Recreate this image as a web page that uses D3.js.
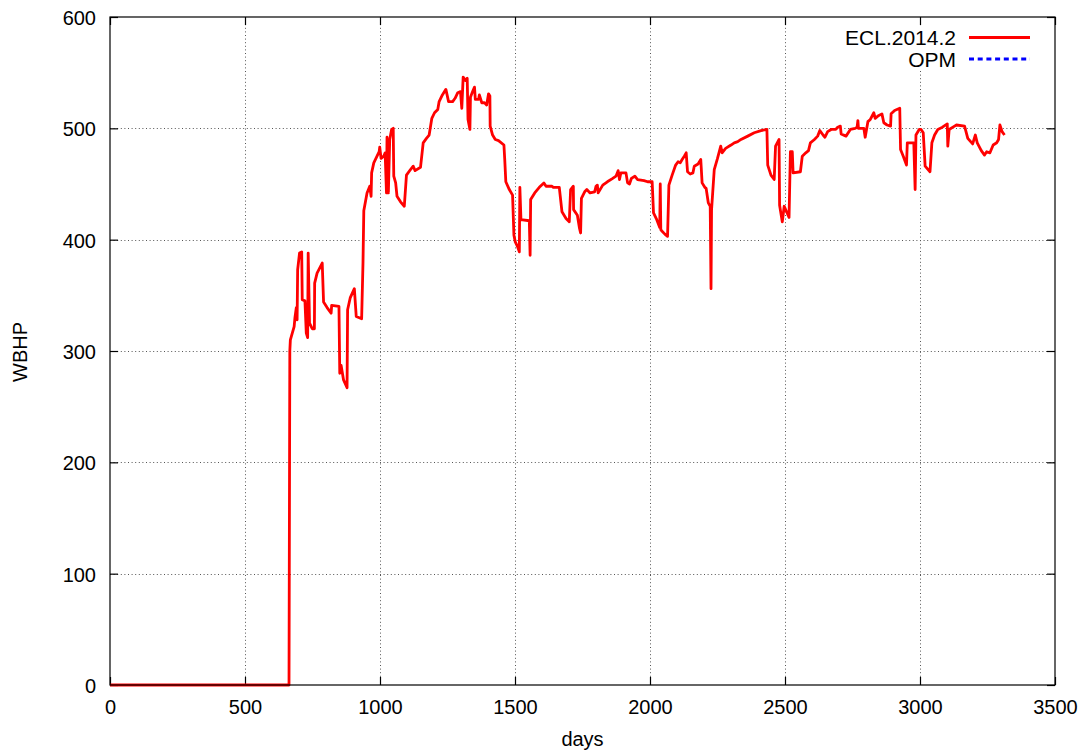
<!DOCTYPE html>
<html>
<head>
<meta charset="utf-8">
<script src="https://cdn.jsdelivr.net/npm/d3@7"></script>
<style>
  html, body { margin: 0; padding: 0; background: #fff; }
  svg { display: block; font-family: "Liberation Sans", Arial, sans-serif; }
</style>
</head>
<body>
<svg id="chart" width="1087" height="756"></svg>
<script>
// ---------- data ----------
const seriesNames = ["ECL.2014.2", "OPM"];
const xTicks = [0, 500, 1000, 1500, 2000, 2500, 3000, 3500];
const yTicks = [0, 100, 200, 300, 400, 500, 600];
const xLabel = "days";
const yLabel = "WBHP";

const eclDays = [
  0, 660, 663, 666, 668, 682, 685, 690, 693, 695, 702, 710, 712, 722, 727, 732, 734, 739, 749, 757,
  758, 767, 786, 791, 804, 819, 821, 848, 851, 856, 865, 878, 880, 890, 905, 912, 932, 937, 940, 952,
  962, 967, 969, 977, 989, 997, 999, 1004, 1014, 1019, 1024, 1026, 1031, 1036, 1043, 1049, 1051, 1058, 1063, 1076,
  1090, 1098, 1113, 1123, 1130, 1150, 1160, 1172, 1182, 1192, 1202, 1214, 1219, 1231, 1244, 1254, 1269, 1278, 1288, 1298,
  1303, 1308, 1316, 1323, 1326, 1333, 1335, 1343, 1350, 1353, 1365, 1368, 1377, 1387, 1395, 1402, 1407, 1408, 1417, 1427,
  1439, 1459, 1462, 1466, 1479, 1491, 1496, 1501, 1509, 1516, 1518, 1522, 1553, 1556, 1558, 1573, 1590, 1607, 1615, 1637,
  1642, 1664, 1674, 1689, 1701, 1706, 1716, 1717, 1731, 1739, 1743, 1746, 1758, 1766, 1778, 1795, 1800, 1805, 1808, 1825,
  1842, 1862, 1874, 1882, 1887, 1892, 1911, 1917, 1924, 1931, 1944, 1954, 1978, 1991, 2008, 2013, 2025, 2036, 2038, 2040,
  2043, 2055, 2065, 2070, 2082, 2095, 2104, 2112, 2119, 2127, 2134, 2139, 2149, 2159, 2164, 2178, 2188, 2193, 2203, 2208,
  2216, 2223, 2226, 2228, 2238, 2250, 2262, 2267, 2280, 2300, 2312, 2325, 2337, 2362, 2386, 2411, 2433, 2436, 2448, 2460,
  2465, 2478, 2480, 2490, 2497, 2515, 2520, 2527, 2530, 2557, 2564, 2577, 2587, 2594, 2609, 2621, 2629, 2641, 2648, 2658,
  2671, 2688, 2695, 2705, 2708, 2726, 2742, 2760, 2767, 2770, 2772, 2792, 2797, 2807, 2816, 2829, 2834, 2844, 2859, 2866,
  2878, 2891, 2893, 2906, 2925, 2928, 2938, 2950, 2953, 2977, 2982, 2985, 2997, 3004, 3012, 3019, 3037, 3044, 3054, 3066,
  3083, 3101, 3103, 3108, 3128, 3135, 3165, 3177, 3195, 3205, 3212, 3227, 3239, 3247, 3259, 3271, 3284, 3291, 3296, 3304,
  3313
];
const eclWbhp = [
  0, 0, 0, 300, 310, 322, 330, 339, 328, 373, 388, 389, 346, 345, 316, 312, 388, 325, 320, 320,
  361, 370, 379, 344, 339, 334, 341, 340, 280, 287, 274, 267, 337, 348, 356, 331, 329, 379, 426, 442,
  448, 439, 460, 469, 475, 479, 483, 473, 475, 478, 442, 492, 442, 490, 499, 500, 457, 451, 439, 434,
  430, 458, 463, 466, 462, 465, 487, 491, 494, 509, 514, 517, 524, 530, 535, 524, 524, 527, 532, 533,
  518, 546, 543, 545, 508, 499, 528, 533, 537, 526, 526, 530, 523, 523, 521, 531, 529, 502, 494, 490,
  489, 485, 472, 452, 445, 440, 404, 398, 394, 389, 447, 418, 417, 386, 436, 442, 447, 451, 448, 448,
  447, 447, 425, 419, 416, 445, 448, 427, 422, 410, 406, 437, 443, 445, 442, 443, 448, 449, 442, 449,
  452, 455, 457, 462, 454, 460, 460, 451, 450, 455, 457, 454, 453, 452, 452, 424, 418, 411, 450, 409,
  408, 405, 403, 449, 458, 467, 470, 469, 472, 475, 478, 461, 459, 460, 466, 468, 472, 451, 447, 446,
  433, 430, 356, 427, 463, 473, 484, 478, 482, 485, 487, 488, 490, 493, 496, 498, 499, 467, 458, 454,
  484, 490, 431, 416, 430, 420, 479, 479, 460, 461, 475, 478, 480, 487, 490, 493, 498, 494, 492, 497,
  499, 499, 501, 502, 495, 493, 499, 500, 501, 507, 500, 500, 492, 506, 508, 514, 509, 511, 513, 505,
  503, 502, 513, 516, 518, 481, 475, 467, 487, 487, 445, 494, 499, 499, 496, 466, 461, 487, 494, 499,
  501, 504, 484, 499, 502, 503, 502, 491, 486, 494, 487, 480, 476, 479, 478, 485, 487, 490, 503, 497,
  494
];
// OPM series: no curve is visible in the reference (only its legend entry)
const opmDays = [];
const opmWbhp = [];

// ---------- layout ----------
const W = 1087, H = 756;
const plot = { left: 110, right: 1055, top: 17, bottom: 685 };
const svg = d3.select("#chart");

const x = d3.scaleLinear().domain([0, 3500]).range([plot.left, plot.right]);
const y = d3.scaleLinear().domain([0, 600]).range([plot.bottom, plot.top]);

// grid
const grid = svg.append("g").attr("class", "grid")
  .attr("stroke", "#555").attr("stroke-width", 1).attr("stroke-dasharray", "1,2.6");
grid.selectAll("line.gx").data(xTicks.slice(1, -1)).enter().append("line")
  .attr("x1", d => Math.round(x(d)) + 0.5).attr("x2", d => Math.round(x(d)) + 0.5)
  .attr("y1", plot.top).attr("y2", plot.bottom);
grid.selectAll("line.gy").data(yTicks.slice(1, -1)).enter().append("line")
  .attr("y1", d => Math.round(y(d)) + 0.5).attr("y2", d => Math.round(y(d)) + 0.5)
  .attr("x1", plot.left).attr("x2", plot.right);

// legend background (hides grid behind key)
svg.append("rect").attr("x", 838).attr("y", 26).attr("width", 200).attr("height", 44).attr("fill", "#fff");

// axes (ticks inward, mirrored)
const fontSize = 20;
const axB = svg.append("g").attr("transform", `translate(0,${plot.bottom})`)
  .call(d3.axisBottom(x).tickValues(xTicks).tickSize(-8).tickPadding(15).tickFormat(d3.format("d")));
const axL = svg.append("g").attr("transform", `translate(${plot.left},0)`)
  .call(d3.axisLeft(y).tickValues(yTicks).tickSize(-8).tickPadding(14).tickFormat(d3.format("d")));
const axT = svg.append("g").attr("transform", `translate(0,${plot.top})`)
  .call(d3.axisTop(x).tickValues(xTicks).tickSize(-8).tickFormat(""));
const axR = svg.append("g").attr("transform", `translate(${plot.right},0)`)
  .call(d3.axisRight(y).tickValues(yTicks).tickSize(-8).tickFormat(""));
[axB, axL, axT, axR].forEach(g => {
  g.select(".domain").remove();
  g.selectAll(".tick line").attr("stroke", "#000").attr("stroke-width", 1.2);
  g.selectAll("text").attr("font-size", fontSize).attr("fill", "#000")
    .attr("font-family", "'Liberation Sans', Arial, sans-serif");
});
axL.selectAll("text").attr("dy", "0.38em");

// data line
const line = d3.line().x(d => x(d[0])).y(d => y(d[1]));
const ecl = eclDays.map((d, i) => [d, eclWbhp[i]]);
const opm = opmDays.map((d, i) => [d, opmWbhp[i]]);
svg.append("path").datum(ecl).attr("d", line)
  .attr("fill", "none").attr("stroke", "#ff0000").attr("stroke-width", 2.8)
  .attr("stroke-linejoin", "round");
svg.append("path").datum(opm).attr("d", opm.length ? line(opm) : null)
  .attr("fill", "none").attr("stroke", "#0000ff").attr("stroke-width", 2.8)
  .attr("stroke-dasharray", "5,3.7");

// frame
svg.append("rect").attr("x", plot.left).attr("y", plot.top)
  .attr("width", plot.right - plot.left).attr("height", plot.bottom - plot.top)
  .attr("fill", "none").attr("stroke", "#000").attr("stroke-width", 1.2);

// axis labels
svg.append("text").attr("x", (plot.left + plot.right) / 2).attr("y", 746)
  .attr("text-anchor", "middle").attr("font-size", fontSize).text(xLabel);
svg.append("text").attr("transform", "translate(27,352) rotate(-90)")
  .attr("text-anchor", "middle").attr("font-size", fontSize).text(yLabel);

// legend
const legendColors = ["#ff0000", "#0000ff"];
const legendDash = [null, "5,3.7"];
const lg = svg.append("g");
seriesNames.forEach((name, i) => {
  const cy = 37.5 + i * 21.5;
  lg.append("text").attr("x", 956).attr("y", cy + 7.5).attr("text-anchor", "end")
    .attr("font-size", 21).text(name);
  lg.append("line").attr("x1", 969).attr("x2", 1030).attr("y1", cy).attr("y2", cy)
    .attr("stroke", legendColors[i]).attr("stroke-width", 2.8)
    .attr("stroke-dasharray", legendDash[i]);
});
</script>
</body>
</html>
